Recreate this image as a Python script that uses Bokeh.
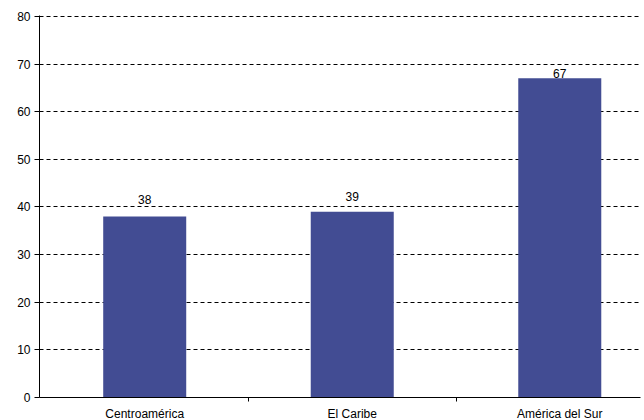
from bokeh.plotting import figure
from bokeh.models import Range1d, FixedTicker, ColumnDataSource
from bokeh.core.properties import value
from bokeh.embed import file_html
from bokeh.resources import INLINE

categories = ["Centroamérica", "El Caribe", "América del Sur"]
values = [38, 39, 67]
y_ticks = [0, 10, 20, 30, 40, 50, 60, 70, 80]

# style: pixel offsets of the value labels
label_offsets = [-17, -15, -5]

xs = [i + 0.5 for i in range(len(categories))]
src = ColumnDataSource(dict(x=xs, top=values, label=[str(v) for v in values], off=label_offsets))

FONT = "Liberation Sans"

p = figure(width=644, height=423, output_backend="svg", toolbar_location=None,
           x_range=Range1d(-0.007, 2.889), y_range=Range1d(0, 80.2),
           min_border_left=39, min_border_right=4, min_border_top=15, min_border_bottom=26)
p.outline_line_color = None
p.background_fill_color = "white"

p.vbar(x="x", top="top", width=0.4, bottom=0, source=src,
       fill_color="#424C93", line_color=None)

p.text(x="x", y="top", text="label", source=src, y_offset="off",
       text_align="center", text_baseline="alphabetic",
       text_font=value(FONT), text_font_size="12px", text_color="black")

# y axis
p.yaxis.ticker = FixedTicker(ticks=y_ticks)
p.yaxis.major_tick_out = 5
p.yaxis.major_tick_in = 0
p.yaxis.minor_tick_line_color = None
p.yaxis.major_label_standoff = 4
p.yaxis.major_label_text_font = FONT
p.yaxis.major_label_text_font_size = "12px"
p.yaxis.major_label_text_color = "black"
p.yaxis.axis_line_color = "black"

# x axis
p.xaxis.ticker = FixedTicker(ticks=xs, minor_ticks=[1, 2])
p.xaxis.major_label_overrides = {x: c for x, c in zip(xs, categories)}
p.xaxis.major_tick_out = 0
p.xaxis.major_tick_in = 0
p.xaxis.minor_tick_out = 4
p.xaxis.minor_tick_in = 0
p.xaxis.minor_tick_line_color = "black"
p.xaxis.major_label_standoff = 5
p.xaxis.major_label_text_font = FONT
p.xaxis.major_label_text_font_size = "12px"
p.xaxis.major_label_text_color = "black"
p.xaxis.axis_line_color = "black"

p.xgrid.grid_line_color = None
p.ygrid.grid_line_color = "black"
p.ygrid.grid_line_dash = "4 3"
p.ygrid.grid_line_width = 1

open("out.html", "w").write(file_html(p, INLINE))
